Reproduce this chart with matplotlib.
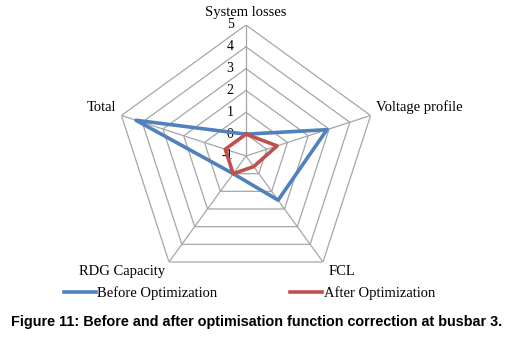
import numpy as np
import matplotlib
matplotlib.use('Agg')
import matplotlib.pyplot as plt

# chart data
categories = ['System losses', 'Voltage profile', 'FCL', 'RDG Capacity', 'Total']
before_opt = [0.0, 2.9, 1.5, 0.0, 4.3]
after_opt = [0.0, 0.5, -0.4, 0.0, 0.0]
levels = [-1, 0, 1, 2, 3, 4, 5]

serif = 'Liberation Serif'
blue = '#4F81BD'
red = '#C0504D'
grid_col = '#A6A6A6'

n = len(categories)
theta = np.linspace(0, 2 * np.pi, n, endpoint=False)
theta_closed = np.append(theta, theta[0])

fig = plt.figure(figsize=(5.14, 3.4), dpi=100)
ax = fig.add_axes([115 / 514, 53 / 340, 262 / 514, 262 / 340], projection='polar')
ax.set_theta_offset(np.pi / 2)
ax.set_theta_direction(-1)
ax.set_ylim(levels[0], levels[-1])
ax.grid(False)
ax.spines['polar'].set_visible(False)
ax.set_xticks([])
ax.set_yticks([])
ax.patch.set_alpha(0)

# pentagon grid
for lv in levels[1:]:
    ax.plot(theta_closed, [lv] * (n + 1), color=grid_col, lw=0.9, zorder=1)
for t in theta:
    ax.plot([t, t], [levels[0], levels[-1]], color=grid_col, lw=0.9, zorder=1)

# value labels along the first spoke
for lv in levels:
    ax.annotate(str(lv), (0, lv), xytext=(-9, 0), textcoords='offset points',
                ha='right', va='center', fontsize=10, family=serif)

# category labels
offsets = [((0, 4), 'center', 'bottom'),
           ((4, 1), 'left', 'bottom'),
           ((4, -2), 'left', 'top'),
           ((-3, -2), 'right', 'top'),
           ((-4, 1), 'right', 'bottom')]
for t, name, (off, ha, va) in zip(theta, categories, offsets):
    ax.annotate(name, (t, levels[-1]), xytext=off, textcoords='offset points',
                ha=ha, va=va, fontsize=10.5, family=serif)

ax.plot(theta_closed, before_opt + before_opt[:1], color=blue, lw=2.6,
        label='Before Optimization', zorder=3)
ax.plot(theta_closed, after_opt + after_opt[:1], color=red, lw=2.6,
        label='After Optimization', zorder=4)

fig.legend(loc='center', bbox_to_anchor=(0.485, 1 - 293 / 340),
           ncol=2, frameon=False, prop={'family': serif, 'size': 10.5},
           handlelength=2.2, handletextpad=0.1, columnspacing=5.0)

fig.text(0.5, 1 - 322 / 340, 'Figure 11: Before and after optimisation function correction at busbar 3.',
         ha='center', va='center', fontsize=10.4, fontweight='bold', family='Liberation Sans')

fig.savefig('out.png', dpi=100)
